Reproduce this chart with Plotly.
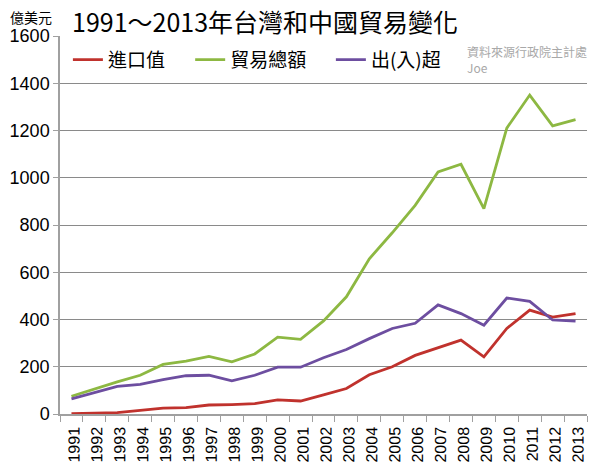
import plotly.graph_objects as go

years = [str(y) for y in range(1991, 2014)]

# 億美元
imports = [2, 3, 6, 15, 25, 27, 38, 40, 44, 60, 55, 81, 108, 166, 200, 248, 281, 313, 242, 362, 440, 410, 425]
trade_total = [75, 106, 136, 164, 210, 224, 244, 221, 254, 325, 316, 394, 496, 657, 767, 883, 1025, 1057, 869, 1210, 1350, 1220, 1246]
surplus = [64, 89, 117, 125, 146, 162, 164, 140, 164, 198, 198, 238, 273, 319, 362, 384, 462, 425, 376, 491, 477, 398, 393]

series_names = ["進口值", "貿易總額", "出(入)超"]
series_colors = ["#c0322d", "#8db842", "#6d4ea0"]
legend_ids = ["legend", "legend2", "legend3"]
legend_x = [0.015, 0.247, 0.514]  # each entry gets its own legend box

FONT = "Liberation Sans, Arial, Noto Sans CJK TC, sans-serif"
CJK_FONT = "Noto Sans CJK TC, Liberation Sans, sans-serif"


def make_trace(y_list, name, color, legend_id):
    return go.Scatter(x=years, y=y_list, mode="lines", name=name, legend=legend_id,
                      line=dict(color=color, width=2.8))


def legend_box(x):
    return dict(orientation="h", x=x, y=0.937, xanchor="left", yanchor="middle",
                bgcolor="rgba(0,0,0,0)", font=dict(family=CJK_FONT, size=19),
                itemwidth=30)


fig = go.Figure()
for vals, name, color, lid in zip([imports, trade_total, surplus], series_names,
                                  series_colors, legend_ids):
    fig.add_trace(make_trace(vals, name, color, lid))

# page body has an 8px margin, so the figure is 8px smaller than the window
fig.update_layout(
    width=592, height=463,
    margin=dict(l=52, r=13, t=28, b=57, autoexpand=False),
    paper_bgcolor="white", plot_bgcolor="white",
    font=dict(family=FONT, color="black"),
    showlegend=True,
    legend=legend_box(legend_x[0]),
    legend2=legend_box(legend_x[1]),
    legend3=legend_box(legend_x[2]),
    annotations=[
        dict(text="1991～2013年台灣和中國貿易變化", xref="paper", yref="paper",
             x=0.019, y=1.041, xanchor="left", yanchor="middle", showarrow=False,
             font=dict(family=CJK_FONT, size=25, color="black")),
        dict(text="億美元", xref="paper", yref="paper", x=-0.099, y=1.05,
             xanchor="left", yanchor="middle", showarrow=False,
             font=dict(family=CJK_FONT, size=14, color="black")),
        dict(text="資料來源行政院主計處<br>Joe", xref="paper", yref="paper",
             x=0.768, y=0.937, xanchor="left", yanchor="middle", align="left",
             showarrow=False, font=dict(family=CJK_FONT, size=12, color="#a8a8a8")),
    ],
)
fig.update_xaxes(type="category", range=[-0.5, len(years) - 0.5], showgrid=False,
                 showline=True, linecolor="#a0a0a0", linewidth=1.5, ticks="outside",
                 tickson="boundaries", ticklen=6, automargin=False, tickcolor="#a0a0a0",
                 tickangle=-89.9, tickfont=dict(size=16, color="black"))
fig.update_yaxes(range=[0, 1600], dtick=200, showgrid=True, gridcolor="#8a8a8a",
                 gridwidth=1.2, showline=True, linecolor="#a0a0a0", linewidth=1.5,
                 ticks="outside", ticklen=5, tickcolor="#a0a0a0", zeroline=False,
                 automargin=False, tickfont=dict(size=18))

fig.write_html("out.html")
